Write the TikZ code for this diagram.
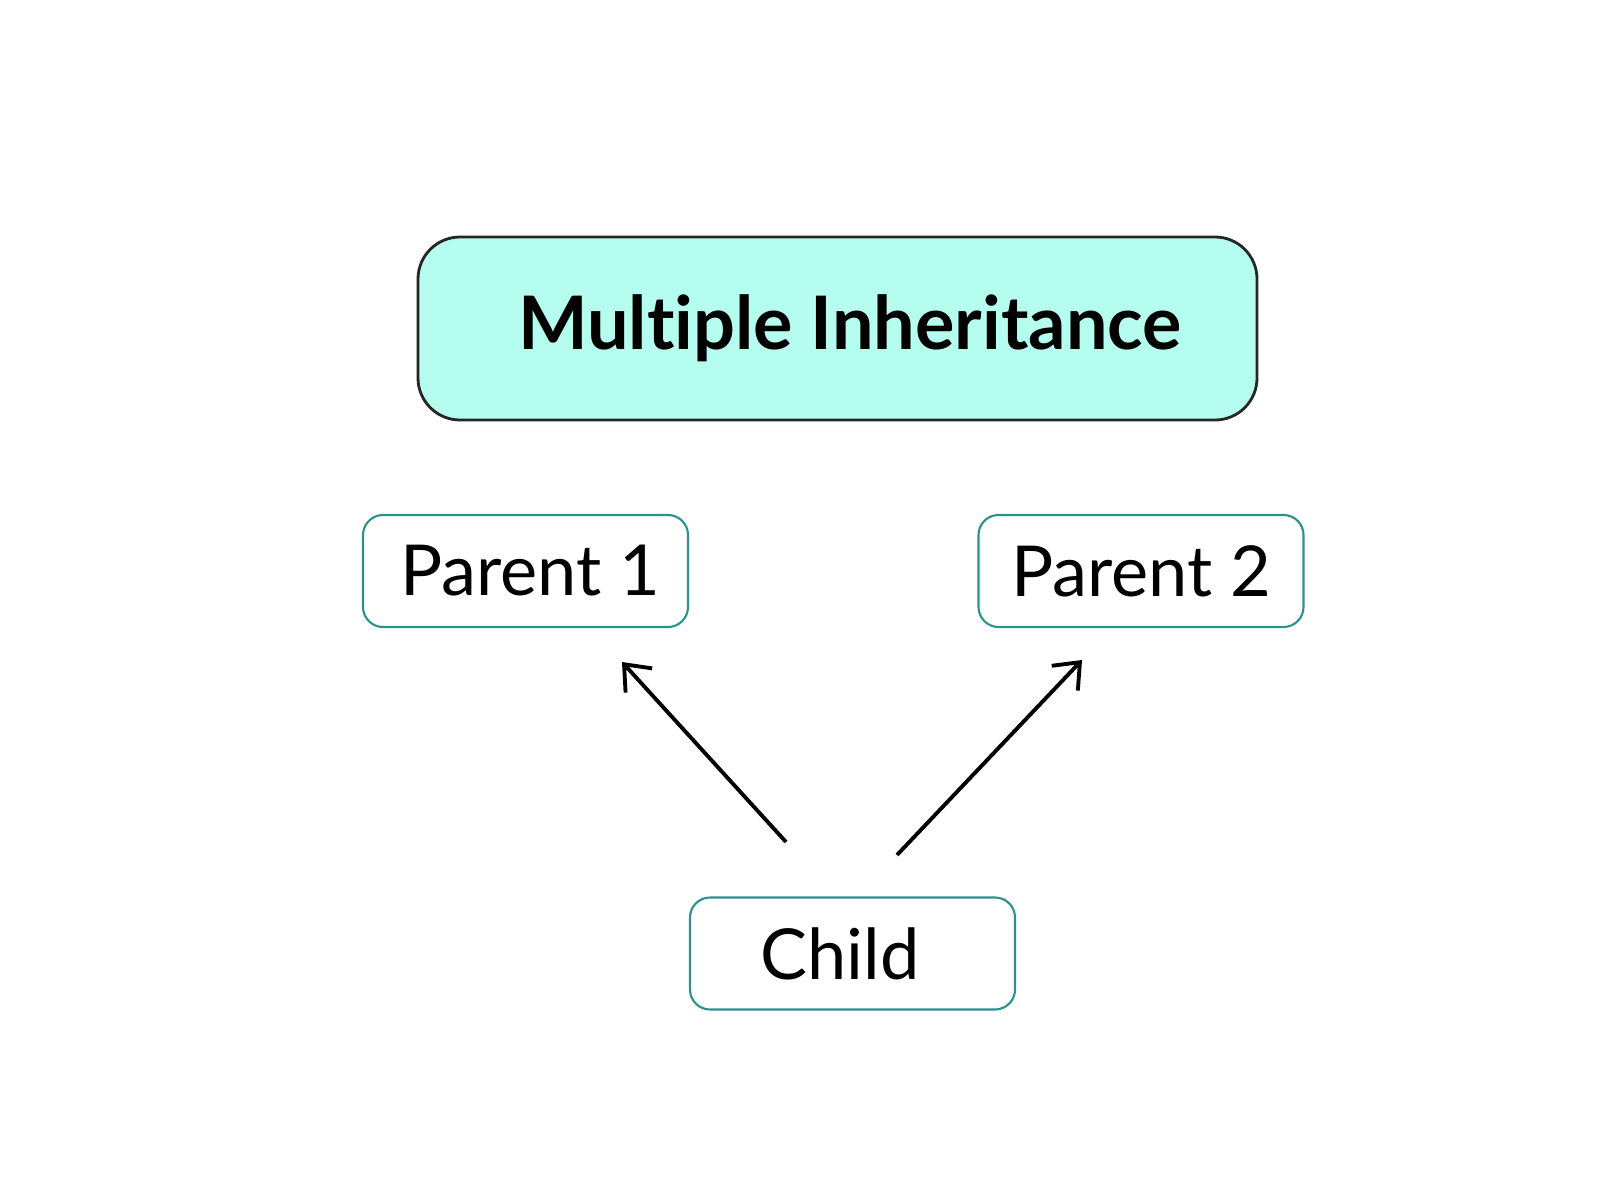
\documentclass[tikz,border=0pt]{standalone}
\usepackage{fontspec}
\setmainfont{Lato}[Ligatures={NoCommon}]
\usetikzlibrary{arrows.meta}

\definecolor{titlefill}{HTML}{B5FDEF}
\definecolor{classedge}{HTML}{2A9090}

\tikzstyle{titlebox} = [draw=black!85,line width=0.8pt,fill=titlefill,rounded corners=0.42cm,minimum width=8.39cm,minimum height=1.83cm,font=\fontsize{21}{24}\selectfont\bfseries]
\tikzstyle{classbox} = [draw=classedge,line width=0.6pt,rounded corners=0.2cm,minimum width=3.25cm,minimum height=1.12cm,font=\fontsize{20}{24}\selectfont]
\tikzstyle{inherit} = [line width=1.1pt,-{Straight Barb[length=2.2mm,width=3.6mm]}]

\begin{document}
\begin{tikzpicture}
	\useasboundingbox[fill=white] (0,0) rectangle (16,12);

	\node[titlebox] (title) at (8.375,8.715) {\hspace*{0.25cm}Multiple Inheritance};
	\node[classbox] (p1) at (5.255,6.29) {\hspace*{0.1cm}Parent 1};
	\node[classbox] (p2) at (11.41,6.29) {Parent 2};
	\node[classbox] (child) at (8.525,2.465) {Child\hspace*{0.25cm}};

	\coordinate (c1) at (7.86,3.58);
	\coordinate (c2) at (8.97,3.45);
	\coordinate (t1) at (6.22,5.38);
	\coordinate (t2) at (10.82,5.40);

	\draw[inherit] (c1) -- (t1);
	\draw[inherit] (c2) -- (t2);
\end{tikzpicture}
\end{document}
